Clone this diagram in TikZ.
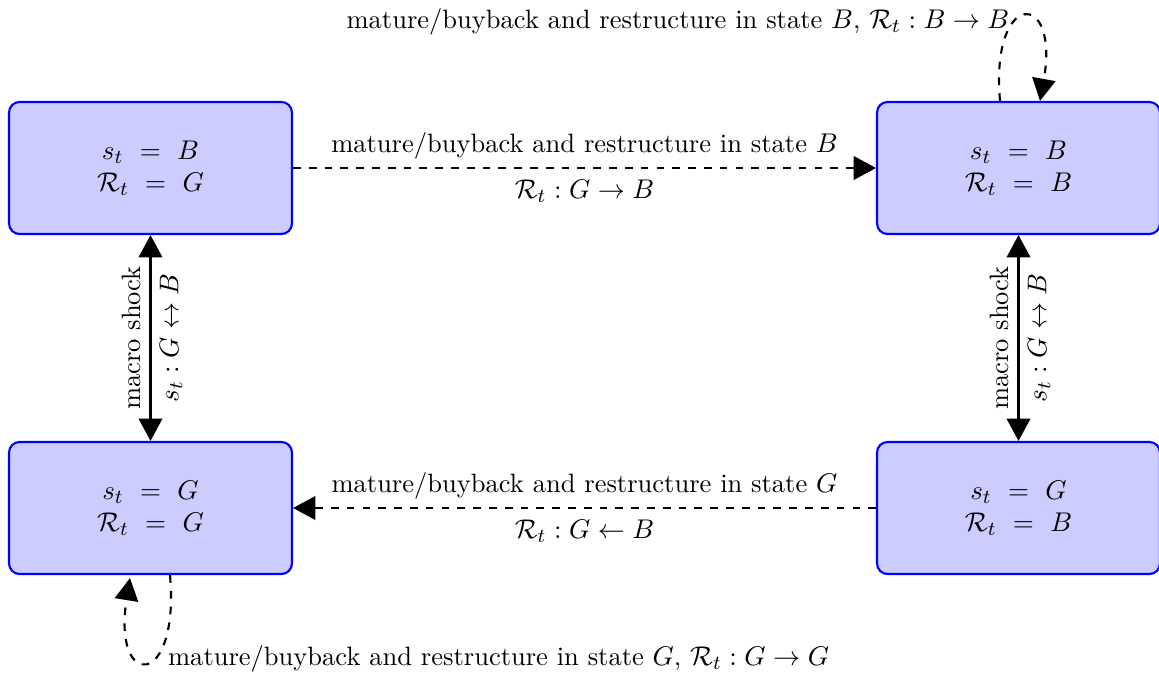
\documentclass[tikz,border=0pt]{standalone}
\usetikzlibrary{arrows.meta,calc}
\begin{document}
\begin{tikzpicture}[x=0.405pt,y=-0.405pt,
  every node/.style={font=\fontsize{10.74pt}{12.9pt}\selectfont},
  statebox/.style={draw=blue,fill=blue!20,line width=0.86pt,rounded corners=4.3pt,
    minimum width=114.6pt,minimum height=53.5pt,inner sep=0pt,align=center},
  dsh/.style={dash pattern=on 3.1pt off 3.3pt},
  arr/.style={line width=0.86pt,-{Triangle[length=9pt,width=9.5pt]}},
  darr/.style={line width=0.86pt,{Triangle[length=9pt,width=9.5pt]}-{Triangle[length=9pt,width=9.5pt]}}]
\useasboundingbox (0,0) rectangle (1159,674);
\node[statebox] (tl) at (150.5,168) {$s_t ~=~ B$\\$\mathcal{R}_t ~=~ G$};
\node[statebox] (tr) at (1018.5,168) {$s_t ~=~ B$\\$\mathcal{R}_t ~=~ B$};
\node[statebox] (bl) at (150.5,508) {$s_t ~=~ G$\\$\mathcal{R}_t ~=~ G$};
\node[statebox] (br) at (1018.5,508) {$s_t ~=~ G$\\$\mathcal{R}_t ~=~ B$};
\draw[arr,dsh] (tl) -- (tr)
  node[midway,above] {mature/buyback and restructure in state $B$}
  node[midway,below,yshift=-1pt] {$\mathcal{R}_t : G \to B$};
\draw[arr,dsh] (br) -- (bl)
  node[midway,above] {mature/buyback and restructure in state $G$}
  node[midway,below,yshift=-1pt] {$\mathcal{R}_t : G \leftarrow B$};
\draw[darr] (bl) -- (tl)
  node[midway,above,sloped] {macro shock}
  node[midway,below,sloped] {$s_t : G \leftrightarrow B$};
\draw[darr] (br) -- (tr)
  node[midway,above,sloped] {macro shock}
  node[midway,below,sloped] {$s_t : G \leftrightarrow B$};
\draw[arr,dsh] ($(tr.north)+(-18.5,0)$) .. controls +(-10,-112) and +(20,-112) .. ($(tr.north)+(21.5,0)$)
  node[pos=0.35,anchor=east,inner sep=0.5pt,yshift=1pt] {mature/buyback and restructure in state $B$, $\mathcal{R}_t : B \to B$};
\draw[arr,dsh] ($(bl.south)+(19.5,0)$) .. controls +(10,115) and +(-18,112) .. ($(bl.south)+(-20.5,3)$)
  node[pos=0.35,anchor=west,yshift=-2pt] {mature/buyback and restructure in state $G$, $\mathcal{R}_t : G \to G$};
\end{tikzpicture}
\end{document}
